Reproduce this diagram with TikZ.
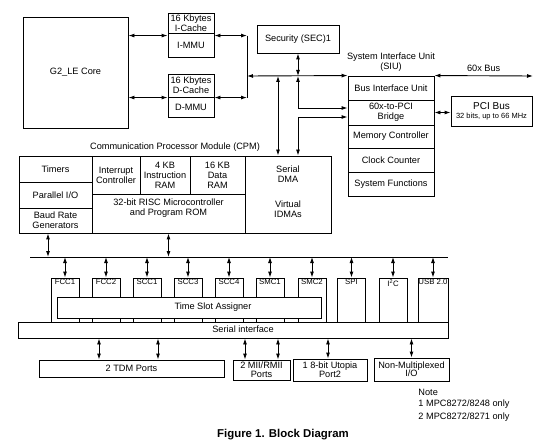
\documentclass[tikz,border=0pt]{standalone}
\usepackage{fontspec}
\setmainfont{Liberation Sans}
\usetikzlibrary{arrows.meta}

\tikzset{
  blk/.style={draw, rectangle, inner sep=0pt, align=center, font=\fontsize{9.2}{10}\selectfont},
  chan/.style={draw, rectangle, fill=white, minimum width=28, minimum height=44, inner sep=0pt},
  chanlbl/.style={anchor=north, inner sep=1.5pt, font=\fontsize{7.8}{9}\selectfont},
  txt/.style={inner sep=0pt, align=center, font=\fontsize{9.2}{10}\selectfont},
}

\begin{document}
\begin{tikzpicture}[x=1pt, y=-1pt, line width=0.9pt, >={Latex[length=6pt,width=4pt]}]
  \useasboundingbox (0,0) rectangle (550,444);

  % Core and caches
  \node[blk, minimum width=105, minimum height=111] (core) at (75.5,72.5) {G2\_LE Core};
  \node[blk, minimum width=46, minimum height=20] (icache) at (191,23) {16 Kbytes\\I-Cache};
  \node[blk, minimum width=46, minimum height=24] (immu) at (191,45) {I-MMU};
  \node[blk, minimum width=46, minimum height=23] (dcache) at (191,85.5) {16 Kbytes\\D-Cache};
  \node[blk, minimum width=46, minimum height=20] (dmmu) at (191,107) {D-MMU};

  \draw[<->] ([yshift=-3]immu.north west) -- ([yshift=-3]immu.north west -| core.east);
  \draw[<->] ([yshift=-1]dmmu.north west) -- ([yshift=-1]dmmu.north west -| core.east);

  % System interface unit
  \node[blk, minimum width=82, minimum height=28] (sec) at (298,39) {Security (SEC)1};
  \node[txt] (siu) at (391,62) {System Interface Unit\\(SIU)};
  \node[blk, minimum width=86, minimum height=24] (biu) at (391,88) {Bus Interface Unit};
  \node[blk, minimum width=86, minimum height=25] (bridge) at (391,112.5) {60x-to-PCI\\Bridge};
  \node[blk, minimum width=86, minimum height=23] (memctl) at (391,136.5) {Memory Controller};
  \node[blk, minimum width=86, minimum height=24] (clkcnt) at (391,160) {Clock Counter};
  \node[blk, minimum width=86, minimum height=24] (sysfn) at (391,184) {System Functions};

  \node[blk, minimum width=81, minimum height=30] (pci) at (491.5,111)
    {{\fontsize{10}{11}\selectfont PCI Bus}\\[-1pt]{\fontsize{7.5}{8}\selectfont 32 bits, up to 66 MHz}};

  \coordinate (sbus) at (247,76);
  \coordinate (xbus) at (533,76);
  \draw[<->] ([yshift=-3]immu.north east) -- ([yshift=-3]immu.north east -| sbus);
  \draw[<->] ([yshift=-1]dmmu.north east) -- ([yshift=-1]dmmu.north east -| sbus);
  \draw ([yshift=-3]immu.north east -| sbus) -- ([yshift=-1]dmmu.north east -| sbus);
  \draw[<->] (sbus) -- (biu.north west);
  \draw[<->] (sec.south) -- (sec.south |- sbus);
  \draw[<->] (biu.north east) -- (xbus) node[txt, midway, above=4pt] (xbuslbl) {60x Bus};
  \draw[<->] (bridge.east) -- (bridge.east -| pci.west);

  % Communication processor module
  \node[txt] (cpmlbl) at (175,147) {Communication Processor Module (CPM)};
  \node[blk, minimum width=73, minimum height=26] (timers) at (55.5,169) {Timers};
  \node[blk, minimum width=73, minimum height=26] (pio) at (55.5,195) {Parallel I/O};
  \node[blk, minimum width=73, minimum height=25] (brg) at (55.5,220.5) {Baud Rate\\Generators};
  \node[blk, minimum width=48, minimum height=38] (intc) at (116,175) {Interrupt\\Controller};
  \node[blk, minimum width=50, minimum height=38] (iram) at (165,175) {4 KB\\Instruction\\RAM};
  \node[blk, minimum width=55, minimum height=38] (dram) at (217.5,175) {16 KB\\Data\\RAM};
  \node[blk, minimum width=153, minimum height=39] (risc) at (168.5,213.5) {};
  \node[txt] (risctxt) at (168.5,208) {32-bit RISC Microcontroller\\and Program ROM};
  \node[blk, minimum width=86, minimum height=77] (sdma) at (288,194.5) {};
  \node[txt] (sdmatxt) at (288,174) {Serial\\DMA};
  \node[txt] (idmatxt) at (288,209) {Virtual\\IDMAs};

  \draw[<->] ([xshift=-10]sdma.north |- sbus) -- ([xshift=-10]sdma.north);
  \draw[<->] (sec.south |- sbus) |- ([yshift=4.5]bridge.west);
  \draw[<->] ([xshift=10]sdma.north) |- ([yshift=-4.5]bridge.west);

  % Serial channels
  \coordinate (cbusL) at (30,257);
  \coordinate (cbusR) at (448,257);
  \draw (cbusL) -- (cbusR);
  \draw[<->] ([xshift=-7.5]brg.south) -- ([xshift=-7.5]brg.south |- cbusL);
  \draw[<->] (risc.south) -- (risc.south |- cbusL);

  \node[chan, label={[chanlbl]north:FCC1}] (fcc1) at (65,300) {};
  \node[chan, label={[chanlbl]north:FCC2}] (fcc2) at (106,300) {};
  \node[chan, label={[chanlbl]north:SCC1}] (scc1) at (147,300) {};
  \node[chan, label={[chanlbl]north:SCC3}] (scc3) at (188,300) {};
  \node[chan, label={[chanlbl]north:SCC4}] (scc4) at (229,300) {};
  \node[chan, label={[chanlbl]north:SMC1}] (smc1) at (270,300) {};
  \node[chan, label={[chanlbl]north:SMC2}] (smc2) at (312,300) {};
  \node[chan, label={[chanlbl]north:SPI}] (spi) at (351.5,300) {};
  \node[chan, label={[chanlbl]north:I\textsuperscript{2}C}] (iic) at (393,300) {};
  \node[chan, minimum width=30, label={[chanlbl]north:USB 2.0}] (usb) at (433,300) {};

  \draw[<->] (fcc1.north) -- (fcc1.north |- cbusL);
  \draw[<->] (fcc2.north) -- (fcc2.north |- cbusL);
  \draw[<->] (scc1.north) -- (scc1.north |- cbusL);
  \draw[<->] (scc3.north) -- (scc3.north |- cbusL);
  \draw[<->] (scc4.north) -- (scc4.north |- cbusL);
  \draw[<->] (smc1.north) -- (smc1.north |- cbusL);
  \draw[<->] (smc2.north) -- (smc2.north |- cbusL);
  \draw[<->] (spi.north) -- (spi.north |- cbusL);
  \draw[<->] (iic.north) -- (iic.north |- cbusL);
  \draw[<->] (usb.north) -- (usb.north |- cbusL);

  \node[blk, fill=white, minimum width=264, minimum height=21] (tsa) at (189,307.5) {};
  \node[txt] (tsatxt) at (213,307.5) {Time Slot Assigner};
  \node[blk, fill=white, minimum width=430, minimum height=16] (si) at (233,330) {};
  \node[txt] (sitxt) at (243,329.5) {Serial interface};

  % Ports
  \node[blk, minimum width=185, minimum height=17] (tdm) at (131.5,368.5) {2 TDM Ports};
  \node[blk, minimum width=57, minimum height=20] (mii) at (261.5,370) {2 MII/RMII\\[-1pt]Ports};
  \node[blk, minimum width=74, minimum height=22] (utopia) at (330,370) {1 8-bit Utopia\\[-1pt]Port2};
  \node[blk, minimum width=75, minimum height=23] (nonmux) at (411.5,369.5) {Non-Multiplexed\\[-2pt]I/O};

  \draw[<->] ([xshift=-32.5]tdm.north |- si.south) -- ([xshift=-32.5]tdm.north);
  \draw[<->] ([xshift=26.5]tdm.north |- si.south) -- ([xshift=26.5]tdm.north);
  \draw[<->] ([xshift=-16.5]mii.north |- si.south) -- ([xshift=-16.5]mii.north);
  \draw[<->] ([xshift=16.5]mii.north |- si.south) -- ([xshift=16.5]mii.north);
  \draw[<->] ([xshift=-2]utopia.north |- si.south) -- ([xshift=-2]utopia.north);
  \draw[<->] (nonmux.north |- si.south) -- (nonmux.north);

  % Notes and caption
  \node[txt, anchor=west] (note0) at (418,392) {Note};
  \node[txt, anchor=west] (note1) at (418,404.5) {1 MPC8272/8248 only};
  \node[txt, anchor=west] (note2) at (418,417) {2 MPC8272/8271 only};
  \node[inner sep=0pt, font=\fontsize{11.4}{12}\selectfont\bfseries] (caption) at (283,435) {Figure 1. Block Diagram};
\end{tikzpicture}
\end{document}
